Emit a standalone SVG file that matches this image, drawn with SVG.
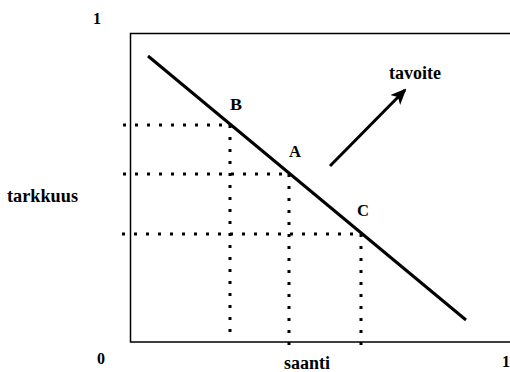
<svg xmlns="http://www.w3.org/2000/svg" width="510" height="372" viewBox="0 0 510 372">
<style>
text{font-family:"Liberation Serif",Tinos,"Nimbus Roman","Nimbus Roman No9 L","FreeSerif","DejaVu Serif","Noto Serif","Times New Roman",Times,serif;font-weight:bold;fill:#000}
.ax{font-size:18px}
.pt{font-size:16px}
.num{font-size:16px}
.dot{stroke:#000;stroke-width:3;stroke-dasharray:3 9;fill:none}
</style>
<defs>
<marker id="ah" markerWidth="16" markerHeight="14" refX="14" refY="7" orient="auto" markerUnits="userSpaceOnUse" viewBox="0 0 16 14">
<path d="M0,0 L16,7 L0,14 L4,7 Z" fill="#000"/>
</marker>
</defs>
<g id="frame">
<polyline points="510,33.5 130.5,33.5 130.5,342 510,342" fill="none" stroke="#000" stroke-width="1.5"/>
</g>
<g id="connectors">
<line x1="148" y1="56" x2="466" y2="320" stroke="#000" stroke-width="3"/>
<line class="dot" x1="123" y1="125" x2="230" y2="125"/>
<line class="dot" x1="230" y1="125" x2="230" y2="336"/>
<line class="dot" x1="123" y1="174" x2="289" y2="174"/>
<line class="dot" x1="289" y1="174" x2="289" y2="348"/>
<line class="dot" x1="122" y1="234" x2="361" y2="234"/>
<line class="dot" x1="361" y1="234" x2="361" y2="347"/>
<line x1="330" y1="166" x2="405" y2="90" stroke="#000" stroke-width="3" marker-end="url(#ah)"/>
</g>
<g id="labels">
<text class="num" x="93" y="24">1</text>
<text class="num" x="97" y="364">0</text>
<text class="num" x="502" y="367">1</text>
<text class="ax" x="7" y="202" textLength="71" lengthAdjust="spacingAndGlyphs">tarkkuus</text>
<text class="ax" x="284" y="369" textLength="46" lengthAdjust="spacingAndGlyphs">saanti</text>
<text class="ax" x="389" y="79" textLength="52" lengthAdjust="spacingAndGlyphs">tavoite</text>
<text class="pt" x="230" y="110" textLength="12" lengthAdjust="spacingAndGlyphs">B</text>
<text class="pt" x="289" y="157" textLength="12" lengthAdjust="spacingAndGlyphs">A</text>
<text class="pt" x="357" y="216" textLength="12" lengthAdjust="spacingAndGlyphs">C</text>
</g>
</svg>
